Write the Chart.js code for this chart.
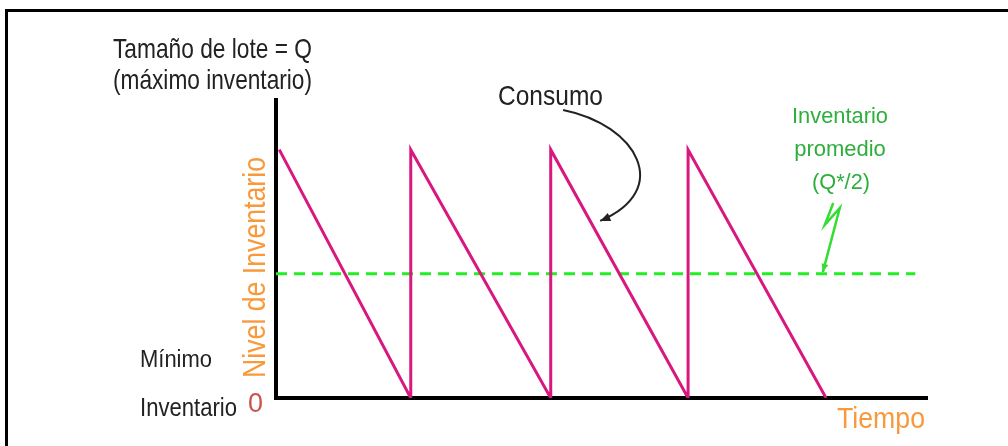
<!DOCTYPE html>
<html lang="es">
<head>
<meta charset="utf-8">
<title>Nivel de inventario</title>
<script src="https://cdn.jsdelivr.net/npm/chart.js@4.4.1/dist/chart.umd.min.js"></script>
<style>
  body { margin: 0; background: #fff; }
  .wrap { position: relative; width: 1008px; height: 446px; overflow: hidden; background: #fff; }
  .frame { position: absolute; left: 5px; top: 9px; width: 1100px; height: 500px; border: 3px solid #000; }
  canvas { position: absolute; left: 0; top: 0; }
</style>
</head>
<body>
<div class="wrap">
  <div class="frame"></div>
  <canvas id="chart" width="1008" height="446"></canvas>
</div>
<script>
// Sawtooth: inventory drops from Q to 0, then is refilled at once
const tiempo = [0.05, 2.07, 2.07, 4.22, 4.22, 6.33, 6.33, 8.45];
const inventario = [100, 0, 100, 0, 100, 0, 100, 0];

// Average inventory (Q*/2)
const tiempoPromedio = [0, 9.82];
const promedio = [50, 50];

const xMax = 10;
const yMax = 120;

// Annotation arrows, in data units
const flechaConsumo = [[4.41, 116], [5.55, 110], [6.1, 83.8], [4.98, 71.3]];
const flechaPromedio = [[8.56, 78.5], [8.43, 69.7], [8.66, 76.5], [8.40, 50.7]];

const MAGENTA = '#d8187f';
const GREEN_LINE = '#22ee22';
const GREEN_TEXT = '#2fae3e';
const ORANGE = '#f89a3c';
const FONT = "'Liberation Sans', Arial, sans-serif";

function drawText(ctx, text, x, y, size, color, maxWidth, align) {
  ctx.font = size + 'px ' + FONT;
  ctx.fillStyle = color;
  ctx.textAlign = align || 'left';
  ctx.textBaseline = 'alphabetic';
  ctx.fillText(text, x, y, maxWidth);
}

function arrowHead(ctx, from, to, size, color) {
  const ang = Math.atan2(to[1] - from[1], to[0] - from[0]);
  ctx.save();
  ctx.fillStyle = color;
  ctx.beginPath();
  ctx.moveTo(to[0], to[1]);
  ctx.lineTo(to[0] - size * Math.cos(ang - 0.4), to[1] - size * Math.sin(ang - 0.4));
  ctx.lineTo(to[0] - size * Math.cos(ang + 0.4), to[1] - size * Math.sin(ang + 0.4));
  ctx.closePath();
  ctx.fill();
  ctx.restore();
}

const labelsPlugin = {
  id: 'labels',
  afterDraw(chart) {
    const ctx = chart.ctx;
    const xs = chart.scales.x;
    const ys = chart.scales.y;
    const p = (pt) => [xs.getPixelForValue(pt[0]), ys.getPixelForValue(pt[1])];

    ctx.save();
    // "Consumo" curved arrow
    const c = flechaConsumo.map(p);
    ctx.strokeStyle = '#222';
    ctx.lineWidth = 2;
    ctx.beginPath();
    ctx.moveTo(c[0][0], c[0][1]);
    ctx.bezierCurveTo(c[1][0], c[1][1], c[2][0], c[2][1], c[3][0], c[3][1]);
    ctx.stroke();
    arrowHead(ctx, c[2], c[3], 11, '#222');

    // lightning-shaped arrow to the average line
    const g = flechaPromedio.map(p);
    ctx.strokeStyle = '#33dd33';
    ctx.lineWidth = 2.5;
    ctx.beginPath();
    ctx.moveTo(g[0][0], g[0][1]);
    for (let i = 1; i < g.length; i++) ctx.lineTo(g[i][0], g[i][1]);
    ctx.stroke();
    arrowHead(ctx, g[2], g[3], 9, '#33dd33');

    // texts
    drawText(ctx, 'Tamaño de lote = Q', 113, 58, 28, '#222', 199);
    drawText(ctx, '(máximo inventario)', 113, 89, 28, '#222', 199);
    drawText(ctx, 'Consumo', 498, 105, 28, '#222', 105);
    drawText(ctx, 'Inventario', 840, 123, 22, GREEN_TEXT, 96, 'center');
    drawText(ctx, 'promedio', 840, 156, 22, GREEN_TEXT, 94, 'center');
    drawText(ctx, '(Q*/2)', 841, 189, 22, GREEN_TEXT, 58, 'center');
    drawText(ctx, 'Mínimo', 140, 367, 23, '#222', 72);
    drawText(ctx, 'Inventario', 140, 416, 25, '#222', 97);
    drawText(ctx, '0', 248, 412, 27, '#c9534f', 15);
    drawText(ctx, 'Tiempo', 837, 428, 29, ORANGE, 88);

    ctx.translate(265, 378);
    ctx.rotate(-Math.PI / 2);
    drawText(ctx, 'Nivel de Inventario', 0, 0, 31, ORANGE, 221);
    ctx.restore();
  }
};

const hiddenAxis = (max) => ({
  type: 'linear',
  min: 0,
  max: max,
  ticks: { display: false },
  grid: { display: false, drawTicks: false },
  border: { display: true, color: '#000', width: 4 }
});

new Chart(document.getElementById('chart'), {
  type: 'line',
  data: {
    datasets: [
      {
        label: 'Inventario',
        data: tiempo.map((t, i) => ({ x: t, y: inventario[i] })),
        borderColor: MAGENTA,
        borderWidth: 3,
        pointRadius: 0,
        tension: 0,
        fill: false
      },
      {
        label: 'Inventario promedio',
        data: tiempoPromedio.map((t, i) => ({ x: t, y: promedio[i] })),
        borderColor: GREEN_LINE,
        borderWidth: 3,
        borderDash: [11, 7],
        pointRadius: 0,
        fill: false
      }
    ]
  },
  options: {
    responsive: false,
    animation: false,
    devicePixelRatio: 1,
    layout: { padding: { left: 276, top: 100, right: 81, bottom: 48 } },
    plugins: {
      legend: { display: false },
      tooltip: { enabled: false }
    },
    scales: {
      x: hiddenAxis(xMax),
      y: hiddenAxis(yMax)
    }
  },
  plugins: [labelsPlugin]
});
</script>
</body>
</html>
